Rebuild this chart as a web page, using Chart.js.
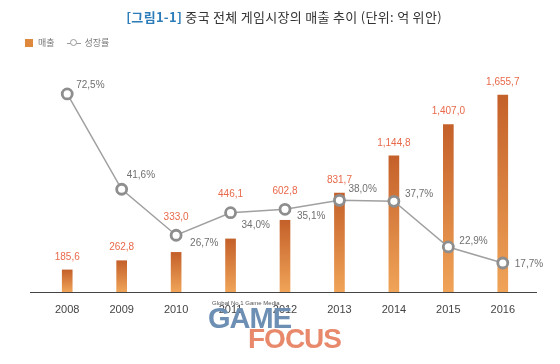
<!DOCTYPE html>
<html>
<head>
<meta charset="utf-8">
<script src="https://cdn.jsdelivr.net/npm/chart.js@4"></script>
<style>
  body { margin: 0; background: #fff; }
  .wrap { position: relative; width: 560px; height: 364px; font-family: "Noto Sans CJK KR", "Noto Sans", sans-serif; }
  canvas { position: absolute; left: 0; top: 0; }
  .title { position: absolute; left: 0; width: 568px; top: 7px; text-align: center; font-size: 13px; letter-spacing: 0.3px; color: #333; }
  .title b { color: #2b7cb8; }
  .legend { position: absolute; left: 25px; top: 36px; font-size: 9px; color: #777; display: flex; align-items: center; }
  .sq { display: inline-block; width: 8px; height: 8px; background: #e0893c; margin-right: 5px; }
  .ln { position: relative; display: inline-block; width: 14px; height: 8px; margin: 0 4px 0 12px; }
  .ln::before { content: ""; position: absolute; left: 0; right: 0; top: 4px; border-top: 1px solid #999; }
  .ln::after { content: ""; position: absolute; left: 3px; top: 0; width: 5px; height: 5px; border: 1.5px solid #999; border-radius: 50%; background: #fff; }
  .wm { position: absolute; left: 208px; top: 300px; font-family: "Liberation Sans", sans-serif; font-weight: bold; }
  .wm .s { position: absolute; left: 4px; top: 0; font-size: 6px; font-weight: normal; color: #555; white-space: nowrap; }
  .wm .g { position: absolute; left: 0; top: 2px; font-size: 29px; color: #6d8fb4; letter-spacing: -1px; }
  .wm .f { position: absolute; left: 40px; top: 23px; font-size: 28px; color: #e8896c; letter-spacing: -1px; }
</style>
</head>
<body>
<div class="wrap">
  <canvas id="chart" width="560" height="364"></canvas>
  <div class="title"><b>[그림1-1]</b> 중국 전체 게임시장의 매출 추이 (단위: 억 위안)</div>
  <div class="legend"><span class="sq"></span>매출<span class="ln"></span>성장률</div>
  <div class="wm"><span class="s">Global No.1 Game Media</span><span class="g">GAME</span><span class="f">FOCUS</span></div>
</div>
<script>
const years = ['2008', '2009', '2010', '2011', '2012', '2013', '2014', '2015', '2016'];
const revenue = [185.6, 262.8, 333.0, 446.1, 602.8, 831.7, 1144.8, 1407.0, 1655.7];
const growth = [72.5, 41.6, 26.7, 34.0, 35.1, 38.0, 37.7, 22.9, 17.7];

// label placement next to each growth point (dx, dy from the point)
const growthLabelPos = [[9, -9], [5, -14], [14, 8], [11, 13], [12, 7], [9, -11], [11, -7], [11, -6], [12, 1]];

function fmtNum(v) {
  const parts = v.toFixed(1).split('.');
  const intPart = parts[0].replace(/\B(?=(\d{3})+(?!\d))/g, ',');
  return intPart + ',' + parts[1];
}

function barGradient(context) {
  const chart = context.chart;
  const area = chart.chartArea;
  if (!area || context.raw == null) return '#e0893c';
  const yScale = chart.scales.y;
  const top = yScale.getPixelForValue(context.raw);
  const bottom = yScale.getPixelForValue(0);
  const g = chart.ctx.createLinearGradient(0, top, 0, bottom);
  g.addColorStop(0, '#c4602a');
  g.addColorStop(1, '#f0a458');
  return g;
}

const labelsPlugin = {
  id: 'valueLabels',
  beforeDatasetsDraw(chart) {
    const { ctx, chartArea } = chart;
    ctx.save();
    ctx.strokeStyle = '#444';
    ctx.lineWidth = 1.2;
    ctx.beginPath();
    ctx.moveTo(30, chartArea.bottom + 0.5);
    ctx.lineTo(537, chartArea.bottom + 0.5);
    ctx.stroke();
    ctx.restore();
  },
  afterDatasetsDraw(chart) {
    const { ctx } = chart;
    const bars = chart.getDatasetMeta(0).data;
    const points = chart.getDatasetMeta(1).data;
    ctx.save();
    ctx.font = '10px "Liberation Sans", sans-serif';
    ctx.textBaseline = 'middle';

    // bar values, lifted over the growth point when it sits just above the bar
    ctx.fillStyle = '#e8694a';
    ctx.textAlign = 'center';
    bars.forEach((bar, i) => {
      const p = points[i];
      let y = bar.y;
      if (p.y < bar.y && bar.y - p.y < 40) y = p.y - 5;
      ctx.fillText(fmtNum(revenue[i]), bar.x, y - 13);
    });

    // growth values
    ctx.fillStyle = '#707070';
    ctx.textAlign = 'left';
    points.forEach((p, i) => {
      const [dx, dy] = growthLabelPos[i];
      ctx.fillText(fmtNum(growth[i]) + '%', p.x + dx, p.y + dy);
    });
    ctx.restore();
  }
};

new Chart(document.getElementById('chart'), {
  data: {
    labels: years,
    datasets: [
      {
        type: 'bar',
        label: '매출',
        data: revenue,
        yAxisID: 'y',
        backgroundColor: barGradient,
        barThickness: 10,
        order: 1
      },
      {
        type: 'line',
        label: '성장률',
        data: growth,
        yAxisID: 'y1',
        borderColor: '#a0a0a0',
        borderWidth: 1.5,
        pointRadius: 5,
        pointBorderWidth: 2.8,
        pointBorderColor: '#8e8e8e',
        pointBackgroundColor: '#fff',
        tension: 0,
        order: 0
      }
    ]
  },
  options: {
    responsive: false,
    animation: false,
    layout: { padding: { left: 40, right: 30, top: 60, bottom: 32 } },
    plugins: {
      legend: { display: false },
      tooltip: { enabled: false }
    },
    scales: {
      x: {
        offset: true,
        grid: { display: false, drawTicks: false },
        border: { display: false },
        ticks: {
          color: '#444',
          padding: 11,
          font: { family: '"Liberation Sans", sans-serif', size: 11 }
        },
        afterFit: (scale) => { scale.height = 40; }
      },
      y: { display: false, min: 0, max: 1950 },
      y1: { display: false, min: 8.3, max: 83.5 }
    }
  },
  plugins: [labelsPlugin]
});
</script>
</body>
</html>
